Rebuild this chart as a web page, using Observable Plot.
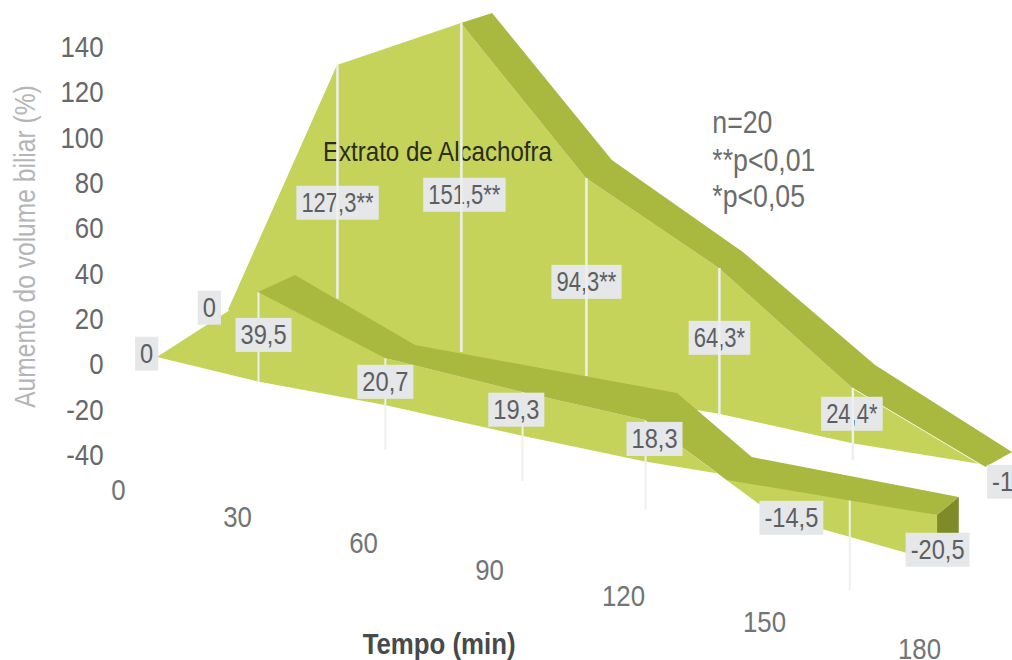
<!DOCTYPE html>
<html lang="pt">
<head>
<meta charset="utf-8">
<title>Aumento do volume biliar</title>
<script src="https://cdn.jsdelivr.net/npm/d3@7"></script>
<script src="https://cdn.jsdelivr.net/npm/@observablehq/plot@0.6"></script>
<style>
  html, body { margin: 0; padding: 0; background: #fff; }
  svg { display: block; }
</style>
</head>
<body>
<div id="chart"></div>
<script>
// Axes
const yTicks = [140, 120, 100, 80, 60, 40, 20, 0, -20, -40];
const timeTicks = [0, 30, 60, 90, 120, 150, 180];
const timeTickLevel = [-55.4, -67.3, -78.8, -90.7, -102.2, -113.7, -125.6];

// Rear series: Extrato de Alcachofra
const rearTime = [27.7, 53.8, 83.3, 111.7, 140.4, 167.1, 192.8];
const rearValue = [0, 127.3, 151.5, 94.3, 64.3, 24.4, -1];
const rearFloor = [24.0, 4.8, -0.9, -12.1, -21.8, -34.8, -44.3];
const rearDropTime = [53.8, 83.3, 111.7, 140.4, 167.1];
const rearDropTop = [132.1, 150.6, 82.2, 42.5, -10.4];
const rearDropEnd = [29, 5.4, -5.1, -22.3, -42.2];

const rearBandTime = [83.3, 111.7, 140.4, 167.1, 192.8];
const rearBandLevel = [150.6, 82.2, 42.5, -10.4, -45.3];
const rearBandBackTime = [90.7, 117.5, 145.5, 171.5, 198];
const rearBandBackLevel = [155.0, 90.1, 49.6, -0.3, -38.7];

// Front series
const frontTime = [9.8, 35, 65.2, 97.4, 124.7, 152.1, 183.5];
const frontValue = [0, 39.5, 20.7, 19.3, 18.3, -14.5, -20.5];
const frontFloor = [3.2, -7.6, -17.9, -31.5, -42.9, -52.3, -66.5];
const frontDropTime = [35, 65.2, 97.4, 124.7, 166.5];
const frontDropTop = [31.9, 2.8, -11, -23.7, -59];
const frontDropEnd = [-7.8, -37.7, -51.5, -64.2, -99.6];

const frontBandTime = [35, 65.2, 97.4, 124.7, 142.1, 183.5];
const frontBandLevel = [31.9, 2.8, -12.2, -24.6, -51, -66.5];
const frontBandBackTime = [43.8, 72.4, 104, 131.5, 147.4, 187.7];
const frontBandBackLevel = [39.4, 8.5, -2.5, -12.6, -40.9, -58.5];

const capTime = [183.5, 187.7];
const capTop = [-66.5, -58.5];
const capBottom = [-77.5, -77.5];

// Value tags: the rear ones sit under the drop lines, the rest on top of everything
const rearTagText = ["127,3**", "151,5**", "94,3**", "64,3*", "24,4*"];
const rearTagTime = [53.8, 84.0, 111.7, 140.4, 166.9];
const rearTagLevel = [71.2, 74.7, 36.3, 11.6, -21.9];
const frontTagText = ["0", "0", "39,5", "-1,0", "20,7", "19,3", "18,3", "-14,5", "-20,5"];
const frontTagTime = [7.1, 22.9, 36.2, 198, 65.2, 96.0, 126.6, 155.2, 183.5];
const frontTagLevel = [4.6, 24.9, 12.9, -51.9, -7.8, -20.1, -33.0, -67.8, -81.9];

const noteText = ["n=20", "**p<0,01", "*p<0,05"];
const noteLevel = [106.5, 90.1, 73.8];

const body = "#c5d35b", band = "#a9b83f", capColor = "#7f8b28", drop = "#eef0ee";
const tagInk = "#5c5f62";

const zip = (...cols) => cols[0].map((_, i) => cols.map((c) => c[i]));
const crest = (v, f) => v.map((d, i) => d + f[i]);

// Ribbon between a front edge and a back edge
const ribbon = (x1, y1, x2, y2, fill) =>
  Plot.area(zip(x1, y1, x2, y2), {x1: "0", y1: "1", x2: "2", y2: "3", fill});
const drops = (x, y1, y2, strokeWidth = 2.5) =>
  Plot.ruleX(zip(x, y1, y2), {x: "0", y1: "1", y2: "2", stroke: drop, strokeWidth});
const tags = (text, x, y) =>
  Plot.text(text, {x: (d, i) => x[i], y: (d, i) => y[i], text: (d) => d, fontSize: 27.5, fill: tagInk});

const plot = Plot.plot({
  width: 1012,
  height: 660,
  marginLeft: 103,
  marginRight: 0,
  marginTop: 0,
  marginBottom: 0,
  style: {background: "#fff", fontFamily: "'Liberation Sans', sans-serif", overflow: "hidden"},
  x: {type: "linear", domain: timeTicks, range: [118, 237, 363, 489, 623, 764, 919], axis: null},
  y: {domain: [-40, 140], range: [455, 47], axis: null},
  marks: [
    Plot.axisY({anchor: "left", ticks: yTicks, tickSize: 0, tickPadding: 0, label: null, fontSize: 30, fill: "#66686a", tickFormat: (d) => String(d)}),
    Plot.text(["Aumento do volume biliar (%)"], {x: -23.4, y: 52.2, rotate: -90, fontSize: 28.6, fill: "#b4b5b6"}),
    Plot.text(timeTicks, {x: (d) => d, y: (d, i) => timeTickLevel[i], text: (d) => String(d), fontSize: 30, fill: "#727476"}),
    Plot.text(["Tempo (min)"], {x: 78, y: -123.4, fontSize: 30, fontWeight: "bold", fill: "#47494b"}),

    Plot.area(zip(rearTime, crest(rearValue, rearFloor), rearFloor), {x1: "0", y1: "1", y2: "2", fill: body}),
    ribbon(rearBandTime, rearBandLevel, rearBandBackTime, rearBandBackLevel, band),
    Plot.line(zip(rearTime.slice(-2), crest(rearValue, rearFloor).slice(-2)), {x: "0", y: "1", stroke: "#fff", strokeWidth: 1, strokeOpacity: 0.8}),
    Plot.text(["Extrato de Alcachofra"], {x: 77.6, y: 94.1, fontSize: 28, fill: "#2b2d18"}),
    tags(rearTagText, rearTagTime, rearTagLevel),
    drops(rearDropTime, rearDropTop, rearDropEnd),

    Plot.area(zip(frontTime, crest(frontValue, frontFloor), frontFloor), {x1: "0", y1: "1", y2: "2", fill: body}),
    drops(frontDropTime, frontDropTop, frontDropEnd, 2),
    ribbon(frontBandTime, frontBandLevel, frontBandBackTime, frontBandBackLevel, band),
    Plot.area(zip(capTime, capTop, capBottom), {x1: "0", y1: "1", y2: "2", fill: capColor}),

    Plot.text(noteText, {x: 138.9, y: (d, i) => noteLevel[i], text: (d) => d, textAnchor: "start", fontSize: 31, fill: "#6a6c6e"}),
    tags(frontTagText, frontTagTime, frontTagLevel)
  ]
});
document.getElementById("chart").append(plot);

// The installed sans is wider than the chart's lettering: narrow every label
plot.querySelectorAll("text").forEach((t) => {
  t.setAttribute("lengthAdjust", "spacingAndGlyphs");
  t.setAttribute("textLength", t.getComputedTextLength() * 0.86);
});

// Grey backing plates sized from each rendered tag
const textGroups = plot.querySelectorAll('g[aria-label="text"]');
[textGroups[4], textGroups[textGroups.length - 1]].forEach((group) => {
  group.querySelectorAll("text").forEach((t) => {
    if (t.textContent.includes("*")) t.setAttribute("textLength", t.getComputedTextLength() * 0.93);
    const b = t.getBBox();
    const r = document.createElementNS("http://www.w3.org/2000/svg", "rect");
    r.setAttribute("x", b.x - 5);
    r.setAttribute("y", b.y + b.height / 2 - 17);
    r.setAttribute("width", b.width + 10);
    r.setAttribute("height", 34);
    r.setAttribute("fill", "#e6e7e8");
    if (t.getAttribute("transform")) r.setAttribute("transform", t.getAttribute("transform"));
    group.insertBefore(r, t);
  });
});
</script>
</body>
</html>
